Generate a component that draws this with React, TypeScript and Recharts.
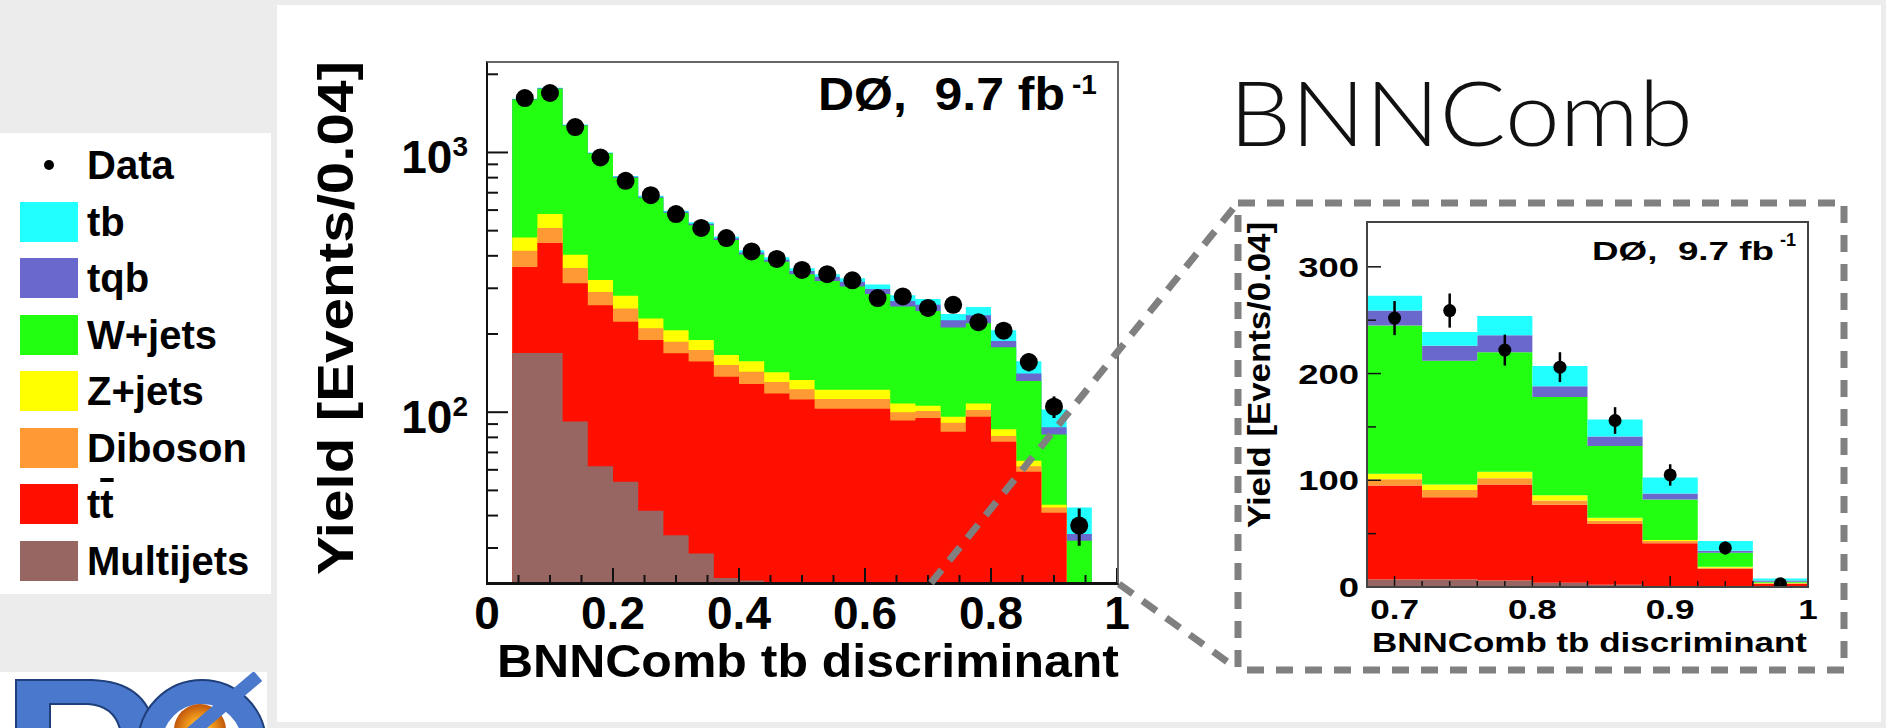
import React from "react";
import { Area, ComposedChart, ErrorBar, Scatter, XAxis, YAxis } from "recharts";

const FONT = "'Liberation Sans', Arial, Helvetica, sans-serif";

// 0.04 wide bins of the discriminant (the 0.00-0.04 bin is empty)
const binLow = [0.04, 0.08, 0.12, 0.16, 0.2, 0.24, 0.28, 0.32, 0.36, 0.4, 0.44, 0.48, 0.52, 0.56, 0.6, 0.64, 0.68, 0.72, 0.76, 0.8, 0.84, 0.88, 0.92, 0.96];
const binHigh = 1.0;
const binMid = [0.06, 0.1, 0.14, 0.18, 0.22, 0.26, 0.3, 0.34, 0.38, 0.42, 0.46, 0.5, 0.54, 0.58, 0.62, 0.66, 0.7, 0.74, 0.78, 0.82, 0.86, 0.9, 0.94, 0.98];

// per-process yields per bin
const multijets = [169, 169, 92, 62, 54, 41.7, 33.6, 28.6, 23, 22.5, 20, 17, 14, 12, 10, 9, 7, 7, 6, 4, 2, 1, 0.5, 0.3];
const ttbar = [193, 279, 222, 196, 169, 148, 135, 128, 114, 106, 98, 95, 89, 91, 93, 84, 88, 77, 90, 73, 57, 40, 16.5, 2.7];
const diboson = [56, 64, 45, 32, 28, 21, 18, 17, 15, 14.5, 12.6, 10.7, 9.3, 9.3, 9.3, 7, 6, 7, 6, 4, 3, 2, 1, 0.5];
const zjets = [53, 67, 45, 33, 30, 19, 20, 16, 14, 14, 12, 10.3, 9.8, 9.8, 9.8, 8, 5, 5, 6, 5, 3, 1, 1, 0.5];
const wjets = [1129, 1181, 866, 667, 519, 440, 378, 335, 294, 248, 237, 207, 198, 183, 163, 147, 139, 116, 112, 92, 67, 38, 13, 1];
const tqb = [6, 8, 7, 6, 6, 6, 6, 7, 7, 7, 7, 10, 12, 13, 13, 13, 14, 14, 16, 10, 9, 5.5, 2, 1];
const tb = [4, 5, 5, 4, 5, 5, 6, 7, 8, 8, 8, 8, 8, 10, 12, 14, 14, 13, 18, 19, 16, 15, 9, 2];

const dataYield = [1620, 1694, 1253, 957, 778, 685, 579, 512, 468, 416, 389, 353, 340, 322, 275, 279, 252, 259, 222, 206, 156, 105, 36.6, 3];
const dataErr = [40, 41, 35, 31, 28, 26, 24, 23, 22, 20, 20, 19, 18, 18, 17, 17, 16, 16, 14.5, 14, 12.5, 10, 6, 1.7];

const insetFrom = 16; // zoomed panel starts at 0.68

// axis ticks
const mainXTicks = [0, 0.05, 0.1, 0.15, 0.2, 0.25, 0.3, 0.35, 0.4, 0.45, 0.5, 0.55, 0.6, 0.65, 0.7, 0.75, 0.8, 0.85, 0.9, 0.95, 1];
const mainXMajor = [0, 0.2, 0.4, 0.6, 0.8, 1];
const mainXLabels = ["0", "0.2", "0.4", "0.6", "0.8", "1"];
const mainYTicks = [30, 40, 50, 60, 70, 80, 90, 100, 200, 300, 400, 500, 600, 700, 800, 900, 1000, 2000];
const mainYMajor = [100, 1000];
const mainYExp = ["2", "3"];
const insetXTicks = [0.7, 0.72, 0.74, 0.76, 0.78, 0.8, 0.82, 0.84, 0.86, 0.88, 0.9, 0.92, 0.94, 0.96, 0.98, 1];
const insetXMajor = [0.7, 0.8, 0.9, 1];
const insetXLabels = ["0.7", "0.8", "0.9", "1"];
const insetYTicks = [0, 50, 100, 150, 200, 250, 300];
const insetYMajor = [0, 100, 200, 300];
const insetYLabels = ["0", "100", "200", "300"];

const layers = [
  { key: "mj", name: "Multijets", color: "#976663", values: multijets },
  { key: "tt", name: "tt", color: "#ff0f00", values: ttbar },
  { key: "vv", name: "Diboson", color: "#ff9933", values: diboson },
  { key: "zj", name: "Z+jets", color: "#ffff00", values: zjets },
  { key: "wj", name: "W+jets", color: "#22ff11", values: wjets },
  { key: "tqb", name: "tqb", color: "#6a68cc", values: tqb },
  { key: "tb", name: "tb", color: "#22ffff", values: tb }
];

const closeLastBin = (rows: Record<string, number>[]) => [...rows, { ...rows[rows.length - 1], x: binHigh }];

// main panel: log scale, so draw cumulative sums overlapping from the top down
const mainRows = closeLastBin(
  binLow.map((x, i) => {
    const row: Record<string, number> = { x };
    let sum = 0;
    layers.forEach((l) => {
      sum += l.values[i];
      row[l.key] = sum;
    });
    return row;
  })
);

const insetRows = closeLastBin(
  binLow.slice(insetFrom).map((x, j) => {
    const row: Record<string, number> = { x };
    layers.forEach((l) => {
      row[l.key] = l.values[insetFrom + j];
    });
    return row;
  })
);

const points = binMid.map((x, i) => ({ x, y: dataYield[i], err: dataErr[i] }));
const insetPoints = points.slice(insetFrom);

const findIdx = (arr: number[], v: number) => arr.findIndex((m) => Math.abs(m - v) < 1e-9);

function MainXTick(props: any) {
  const { x, y, payload } = props;
  const idx = findIdx(mainXMajor, payload.value);
  return (
    <g>
      <line x1={x} y1={y} x2={x} y2={y - (idx >= 0 ? 15 : 8)} stroke="#111" strokeWidth={2} />
      {idx >= 0 && (
        <text x={x} y={y + 46} textAnchor="middle" fontSize={46} fontWeight="bold" fontFamily={FONT} fill="#000">
          {mainXLabels[idx]}
        </text>
      )}
    </g>
  );
}

function MainYTick(props: any) {
  const { x, y, payload } = props;
  const idx = findIdx(mainYMajor, payload.value);
  return (
    <g>
      <line x1={x} y1={y} x2={x + (idx >= 0 ? 21 : 11)} y2={y} stroke="#111" strokeWidth={2} />
      {idx >= 0 && (
        <text x={x - 19} y={y + 21} textAnchor="end" fontSize={46} fontWeight="bold" fontFamily={FONT} fill="#000">
          10
          <tspan dy={-17} fontSize={28}>
            {mainYExp[idx]}
          </tspan>
        </text>
      )}
    </g>
  );
}

function InsetXTick(props: any) {
  const { x, y, payload } = props;
  const idx = findIdx(insetXMajor, payload.value);
  return (
    <g>
      <line x1={x} y1={y} x2={x} y2={y - (idx >= 0 ? 11 : 6)} stroke="#111" strokeWidth={1.5} />
      {idx >= 0 && (
        <text transform={`translate(${x},${y + 32}) scale(1.3,1)`} textAnchor="middle" fontSize={27} fontWeight="bold" fontFamily={FONT} fill="#000">
          {insetXLabels[idx]}
        </text>
      )}
    </g>
  );
}

function InsetYTick(props: any) {
  const { x, y, payload } = props;
  const idx = findIdx(insetYMajor, payload.value);
  return (
    <g>
      <line x1={x} y1={y} x2={x + (idx >= 0 ? 14 : 9)} y2={y} stroke="#111" strokeWidth={1.5} />
      {idx >= 0 && (
        <text transform={`translate(${x - 8},${y + 10}) scale(1.35,1)`} textAnchor="end" fontSize={27} fontWeight="bold" fontFamily={FONT} fill="#000">
          {insetYLabels[idx]}
        </text>
      )}
    </g>
  );
}

const dot = (r: number) => (p: any) => <circle cx={p.cx} cy={p.cy} r={r} fill="#000" />;

function Legend() {
  const rows = [...layers].reverse();
  const rowY = (i: number) => 32 + i * 56.5;
  return (
    <div style={{ position: "absolute", left: 0, top: 133, width: 271, height: 461, background: "#fff", fontFamily: FONT }}>
      <div style={{ position: "absolute", left: 44, top: rowY(0) - 5, width: 10, height: 10, borderRadius: 5, background: "#000" }} />
      <div style={{ position: "absolute", left: 87, top: rowY(0) - 20, fontSize: 40, lineHeight: "40px", fontWeight: "bold" }}>Data</div>
      {rows.map((l, i) => (
        <React.Fragment key={l.key}>
          <div style={{ position: "absolute", left: 20, top: rowY(i + 1) - 20, width: 58, height: 40, background: l.color }} />
          <div style={{ position: "absolute", left: 87, top: rowY(i + 1) - 20, fontSize: 40, lineHeight: "40px", fontWeight: "bold", whiteSpace: "nowrap" }}>
            {l.key === "tt" ? (
              <>
                t<span style={{ textDecoration: "overline" }}>t</span>
              </>
            ) : (
              l.name
            )}
          </div>
        </React.Fragment>
      ))}
    </div>
  );
}

// top of the experiment logo, only its upper edge shows on the slide
function LogoStrip() {
  return (
    <svg style={{ position: "absolute", left: 0, top: 672 }} width={267} height={56}>
      <defs>
        <radialGradient id="sun" cx="50%" cy="50%" r="50%">
          <stop offset="0%" stopColor="#fff7c0" />
          <stop offset="45%" stopColor="#f6a21e" />
          <stop offset="100%" stopColor="#c0560c" />
        </radialGradient>
      </defs>
      <rect width={267} height={56} fill="#fff" />
      <path
        d="M16,8 L92,8 Q154,10 156,70 L16,70 Z M50,32 L88,32 Q120,34 122,70 L50,70 Z"
        fill="#4a78cc"
        fillRule="evenodd"
        stroke="#1f3f7a"
        strokeWidth={2}
      />
      <circle cx={202} cy={72} r={52} fill="none" stroke="#4a78cc" strokeWidth={24} />
      <circle cx={202} cy={72} r={64} fill="none" stroke="#1f3f7a" strokeWidth={2} />
      <circle cx={200} cy={58} r={26} fill="url(#sun)" />
      <line x1={150} y1={96} x2={258} y2={4} stroke="#4a78cc" strokeWidth={13} />
    </svg>
  );
}

export default function App() {
  return (
    <div style={{ position: "absolute", left: 0, top: 0, width: 1886, height: 728, background: "#ececec", overflow: "hidden", fontFamily: FONT }}>
      {/* slide panel */}
      <div style={{ position: "absolute", left: 277, top: 5, width: 1604, height: 717, background: "#fff" }} />
      <Legend />
      <LogoStrip />

      {/* main plot */}
      <div style={{ position: "absolute", left: 280, top: 40 }}>
        <ComposedChart width={850} height={660} data={mainRows} margin={{ top: 22, right: 13, bottom: 0, left: 0 }}>
          {[...layers].reverse().map((l) => (
            <Area
              key={l.key}
              dataKey={l.key}
              type="stepAfter"
              fill={l.color}
              fillOpacity={1}
              stroke="none"
              dot={false}
              activeDot={false}
              isAnimationActive={false}
            />
          ))}
          <Scatter data={points} dataKey="y" fill="#000" shape={dot(9)} isAnimationActive={false}>
            <ErrorBar dataKey="err" direction="y" width={0} stroke="#000" strokeWidth={3} />
          </Scatter>
          <XAxis
            type="number"
            dataKey="x"
            domain={[0, 1]}
            allowDataOverflow
            ticks={mainXTicks}
            interval={0}
            height={117}
            tickSize={0}
            tickMargin={0}
            axisLine={false}
            tickLine={false}
            tick={(p: any) => <MainXTick {...p} />}
          />
          <YAxis
            scale="log"
            domain={[22, 2230]}
            allowDataOverflow
            ticks={mainYTicks}
            interval={0}
            width={207}
            tickSize={0}
            tickMargin={0}
            axisLine={false}
            tickLine={false}
            tick={(p: any) => <MainYTick {...p} />}
          />
        </ComposedChart>
      </div>
      <div
        style={{
          position: "absolute",
          left: 486,
          top: 61,
          width: 633,
          height: 524,
          boxSizing: "border-box",
          borderTop: "2px solid #666",
          borderRight: "2px solid #666",
          borderLeft: "2px solid #111",
          borderBottom: "3px solid #111",
          pointerEvents: "none"
        }}
      />

      {/* zoomed plot */}
      <div style={{ position: "absolute", left: 1290, top: 200 }}>
        <ComposedChart width={530} height={470} data={insetRows} margin={{ top: 22, right: 12, bottom: 0, left: 0 }}>
          {layers.map((l) => (
            <Area
              key={l.key}
              dataKey={l.key}
              stackId="mc"
              type="stepAfter"
              fill={l.color}
              fillOpacity={1}
              stroke="none"
              dot={false}
              activeDot={false}
              isAnimationActive={false}
            />
          ))}
          <Scatter data={insetPoints} dataKey="y" fill="#000" shape={dot(6.5)} isAnimationActive={false}>
            <ErrorBar dataKey="err" direction="y" width={0} stroke="#000" strokeWidth={2.5} />
          </Scatter>
          <XAxis
            type="number"
            dataKey="x"
            domain={[0.68, 1]}
            allowDataOverflow
            ticks={insetXTicks}
            interval={0}
            height={83}
            tickSize={0}
            tickMargin={0}
            axisLine={false}
            tickLine={false}
            tick={(p: any) => <InsetXTick {...p} />}
          />
          <YAxis
            domain={[0, 342]}
            allowDataOverflow
            ticks={insetYTicks}
            interval={0}
            width={77}
            tickSize={0}
            tickMargin={0}
            axisLine={false}
            tickLine={false}
            tick={(p: any) => <InsetYTick {...p} />}
          />
        </ComposedChart>
      </div>
      <div
        style={{
          position: "absolute",
          left: 1366,
          top: 221,
          width: 443,
          height: 367,
          boxSizing: "border-box",
          border: "2px solid #444",
          pointerEvents: "none"
        }}
      />

      {/* titles, labels and zoom guides */}
      <svg style={{ position: "absolute", left: 0, top: 0, pointerEvents: "none" }} width={1886} height={728}>
        <g fontFamily={FONT} fontWeight="bold" fill="#000">
          <text transform="translate(353,318) rotate(-90)" textAnchor="middle" fontSize={50} textLength={514} lengthAdjust="spacingAndGlyphs">
            Yield [Events/0.04]
          </text>
          <text x={1119} y={677} textAnchor="end" fontSize={47} textLength={622} lengthAdjust="spacingAndGlyphs">
            BNNComb tb discriminant
          </text>
          <text x={818} y={110} fontSize={46} textLength={247} lengthAdjust="spacingAndGlyphs" style={{ whiteSpace: "pre" }}>
            {"DØ,  9.7 fb"}
          </text>
          <text x={1072} y={94} fontSize={28}>
            -1
          </text>

          <text transform="translate(1270,375) rotate(-90)" textAnchor="middle" fontSize={31} textLength={306} lengthAdjust="spacingAndGlyphs">
            Yield [Events/0.04]
          </text>
          <text x={1807} y={652} textAnchor="end" fontSize={27} textLength={435} lengthAdjust="spacingAndGlyphs">
            BNNComb tb discriminant
          </text>
          <text x={1592} y={260} fontSize={26} textLength={182} lengthAdjust="spacingAndGlyphs" style={{ whiteSpace: "pre" }}>
            {"DØ,  9.7 fb"}
          </text>
          <text x={1780} y={246} fontSize={18}>
            -1
          </text>
        </g>
        <text x={1229} y={146} fontSize={90} fontWeight={300} fontFamily="Lato, 'Open Sans', sans-serif" fill="#111" textLength={464} lengthAdjust="spacingAndGlyphs">
          BNNComb
        </text>
        <g stroke="#808080" strokeWidth={7} fill="none" strokeDasharray="17 12">
          <rect x={1238} y={203} width={606} height={467} />
          <line x1={931} y1={583} x2={1236} y2={205} />
          <line x1={1119} y1={584} x2={1236} y2={668} />
        </g>
      </svg>
    </div>
  );
}
